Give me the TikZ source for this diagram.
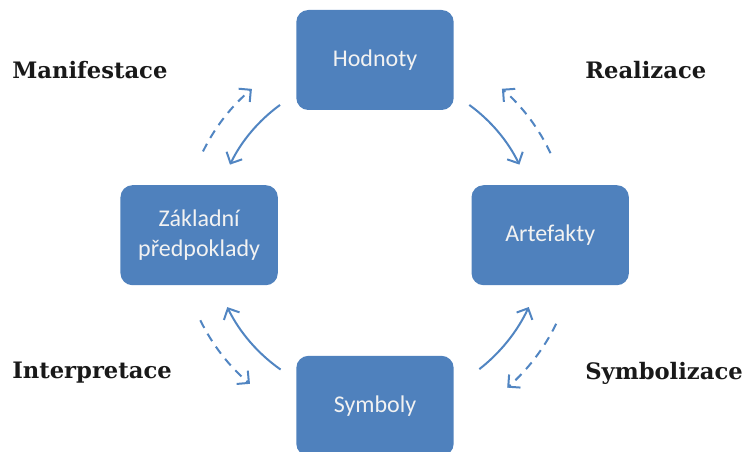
\documentclass[tikz,border=0pt]{standalone}
\usepackage{fontspec}
\setmainfont{DejaVu Serif}
\newfontfamily\boxfont{Carlito}
\usepackage{xcolor}
\usetikzlibrary{arrows.meta,positioning,calc}
\definecolor{ofblue}{HTML}{4F81BD}
\definecolor{arblue}{HTML}{5185C2}
\tikzset{
  blk/.style    = {rectangle, rounded corners=9pt, fill=ofblue, text=white!95!black,
                   align=center, font=\boxfont\fontsize{18}{22}\selectfont,
                   minimum width=118pt, minimum height=75pt, inner sep=3pt},
  lbl/.style    = {font=\bfseries\fontsize{17}{20}\selectfont, text=black!90,
                   anchor=west, inner sep=0pt},
  ar/.style     = {-{Straight Barb[length=6.5pt,width=13pt]}, line width=1.5pt, draw=arblue},
  ardash/.style = {ar, dash pattern=on 6.5pt off 5pt}
}
\begin{document}
\begin{tikzpicture}[x=0.75pt,y=-0.75pt]
  \useasboundingbox (0,0) rectangle (747,452);

  % ---- Boxes ----
  \node[blk] (hod) at (375,60) {Hodnoty};
  \node[blk, below left=56pt and 13.5pt of hod]  (zak) {Základní\\ předpoklady};
  \node[blk, below right=56pt and 13pt of hod]   (art) {Artefakty};
  \node[blk, below=184pt of hod] (sym) {Symboly};

  % ---- Centre of the cycle ----
  \coordinate (mid) at ($(zak.east)!0.5!(art.west)$);

  % ---- Labels ----
  \node[lbl] (man) at (12,70)   {Manifestace};
  \node[lbl] (rea) at (585,70)  {Realizace};
  \node[lbl] (int) at (12,373)  {Interpretace};
  \node[lbl] (sbl) at (585,373) {Symbolizace};

  % ---- Arrows (solid inside, dashed outside) ----
  \draw[ar]     ($(mid)+(-126:161)$) arc[start angle=-126, end angle=-154, radius=161];
  \draw[ardash] ($(mid)+(-154:191)$) arc[start angle=-154, end angle=-130, radius=191];
  \draw[ar]     ($(mid)+(-54:161)$)  arc[start angle=-54,  end angle=-26,  radius=161];
  \draw[ardash] ($(mid)+(-25:194)$)  arc[start angle=-25,  end angle=-49,  radius=194];
  \draw[ar]     ($(mid)+(125:164)$)  arc[start angle=125,  end angle=154,  radius=164];
  \draw[ardash] ($(mid)+(154:194)$)  arc[start angle=154,  end angle=130,  radius=194];
  \draw[ar]     ($(mid)+(52:170)$)   arc[start angle=52,   end angle=25,   radius=170];
  \draw[ardash] ($(mid)+(26:202)$)   arc[start angle=26,   end angle=49,   radius=202];
\end{tikzpicture}
\end{document}
